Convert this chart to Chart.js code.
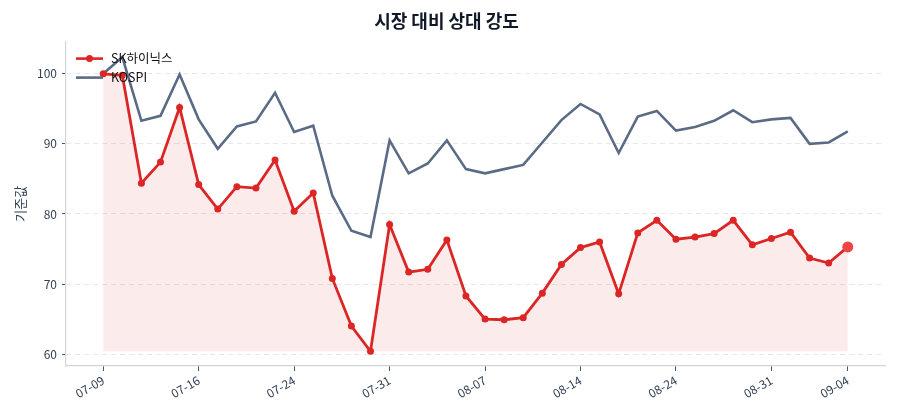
<!DOCTYPE html>
<html>
<head>
<meta charset="utf-8">
<script src="https://cdn.jsdelivr.net/npm/chart.js@4.4.1/dist/chart.umd.min.js"></script>
<style>
  html, body { margin: 0; padding: 0; background: #fff; }
  #wrap { width: 900px; height: 420px; }
</style>
</head>
<body>
<div id="wrap"><canvas id="rsChart"></canvas></div>
<script>
const dates = [
  '07-09', '07-10', '07-11', '07-14', '07-15', '07-16', '07-17', '07-18', '07-21', '07-22',
  '07-24', '07-25', '07-28', '07-29', '07-30', '07-31', '08-01', '08-04', '08-05', '08-06',
  '08-07', '08-08', '08-11', '08-12', '08-13', '08-14', '08-18', '08-19', '08-20', '08-21',
  '08-24', '08-25', '08-26', '08-27', '08-28', '08-31', '09-01', '09-02', '09-03', '09-04',
]
const tickIdx = [0, 5, 10, 15, 20, 25, 30, 35, 39]

const skHynix = [
  100.0, 99.8, 84.4, 87.4, 95.2, 84.2, 80.7, 83.9, 83.7, 87.7,
  80.4, 83.0, 70.8, 64.0, 60.4, 78.5, 71.7, 72.1, 76.3, 68.3,
  65.0, 64.9, 65.2, 68.7, 72.8, 75.2, 76.0, 68.6, 77.3, 79.1,
  76.4, 76.7, 77.2, 79.1, 75.6, 76.5, 77.4, 73.7, 73.0, 75.3,
]
const kospi = [
  100.0, 102.4, 93.3, 94.0, 99.9, 93.5, 89.3, 92.5, 93.2, 97.3,
  91.7, 92.6, 82.6, 77.6, 76.7, 90.5, 85.8, 87.2, 90.5, 86.4,
  85.8, 86.4, 87.0, 90.2, 93.4, 95.7, 94.2, 88.7, 93.9, 94.7,
  91.9, 92.4, 93.3, 94.8, 93.1, 93.5, 93.7, 90.0, 90.2, 91.8,
]
const yTicks = [60, 70, 80, 90, 100]

const RED = '#dc2626'
const SLATE = '#5b6b86'
const FONT = "'Noto Sans CJK KR', 'Noto Sans', sans-serif"

const lastIdx = skHynix.length - 1
const baseLine = Math.min(...skHynix)

// legend sits inside the plot, top-left, no frame
const insideLegend = {
  id: 'insideLegend',
  afterDatasetsDraw(chart) {
    const { ctx, chartArea } = chart
    const items = [
      { label: 'SK하이닉스', color: RED, dot: true },
      { label: 'KOSPI', color: SLATE, dot: false },
    ]
    ctx.save()
    ctx.font = `12.5px ${FONT}`
    ctx.textBaseline = 'middle'
    items.forEach((it, i) => {
      const y = chartArea.top + 17 + i * 19
      const x0 = chartArea.left + 10
      ctx.strokeStyle = it.color
      ctx.lineWidth = 2.6
      ctx.beginPath()
      ctx.moveTo(x0, y)
      ctx.lineTo(x0 + 27, y)
      ctx.stroke()
      if (it.dot) {
        ctx.fillStyle = it.color
        ctx.beginPath()
        ctx.arc(x0 + 13.5, y, 3.5, 0, Math.PI * 2)
        ctx.fill()
      }
      ctx.fillStyle = '#111'
      ctx.fillText(it.label, x0 + 35, y)
    })
    ctx.restore()
  },
}

new Chart(document.getElementById('rsChart').getContext('2d'), {
  type: 'line',
  data: {
    datasets: [
      {
        label: 'SK하이닉스',
        data: skHynix.map((v, i) => ({ x: i, y: v })),
        borderColor: RED,
        borderWidth: 2.8,
        backgroundColor: 'rgba(220, 38, 38, 0.09)',
        fill: { value: baseLine },
        pointRadius: (c) => (c.dataIndex === lastIdx ? 5.5 : 3.5),
        pointBackgroundColor: (c) => (c.dataIndex === lastIdx ? '#ef4444' : RED),
        pointBorderWidth: 0,
        tension: 0,
        order: 1,
      },
      {
        label: 'KOSPI',
        data: kospi.map((v, i) => ({ x: i, y: v })),
        borderColor: SLATE,
        borderWidth: 2.6,
        pointRadius: 0,
        fill: false,
        tension: 0,
        order: 2,
      },
    ],
  },
  options: {
    responsive: true,
    maintainAspectRatio: false,
    animation: false,
    layout: { padding: { left: 8, right: 15, top: 0, bottom: 2 } },
    plugins: {
      legend: { display: false },
      tooltip: { enabled: false },
      title: {
        display: true,
        text: '시장 대비 상대 강도',
        color: '#111827',
        font: { family: FONT, size: 18, weight: 'bold' },
        padding: { top: 10, bottom: 10 },
      },
    },
    scales: {
      x: {
        type: 'linear',
        min: -1.95,
        max: 40.95,
        afterBuildTicks: (axis) => {
          axis.ticks = tickIdx.map((v) => ({ value: v }))
        },
        afterFit: (axis) => {
          axis.height = 52
        },
        ticks: {
          autoSkip: false,
          minRotation: 30,
          maxRotation: 30,
          padding: 2,
          color: '#334155',
          font: { family: FONT, size: 12 },
          callback: (v) => dates[v],
        },
        grid: {
          drawOnChartArea: false,
          drawTicks: true,
          tickLength: 5,
          tickColor: '#475569',
        },
        border: { color: '#d1d5db', width: 1.2 },
      },
      y: {
        min: 58.3,
        max: 104.6,
        afterBuildTicks: (axis) => {
          axis.ticks = yTicks.map((v) => ({ value: v }))
        },
        afterFit: (axis) => {
          axis.width = 58
        },
        title: {
          display: true,
          text: '기준값',
          color: '#334155',
          font: { family: FONT, size: 13 },
          padding: { top: 4, bottom: 0 },
        },
        ticks: {
          padding: 5,
          color: '#334155',
          font: { family: FONT, size: 12 },
        },
        grid: {
          color: '#e5e7eb',
          lineWidth: 1,
          tickLength: 4,
          tickColor: '#475569',
        },
        border: { color: '#d1d5db', width: 1.2, dash: [5, 4] },
      },
    },
  },
  plugins: [insideLegend],
})
</script>
</body>
</html>
